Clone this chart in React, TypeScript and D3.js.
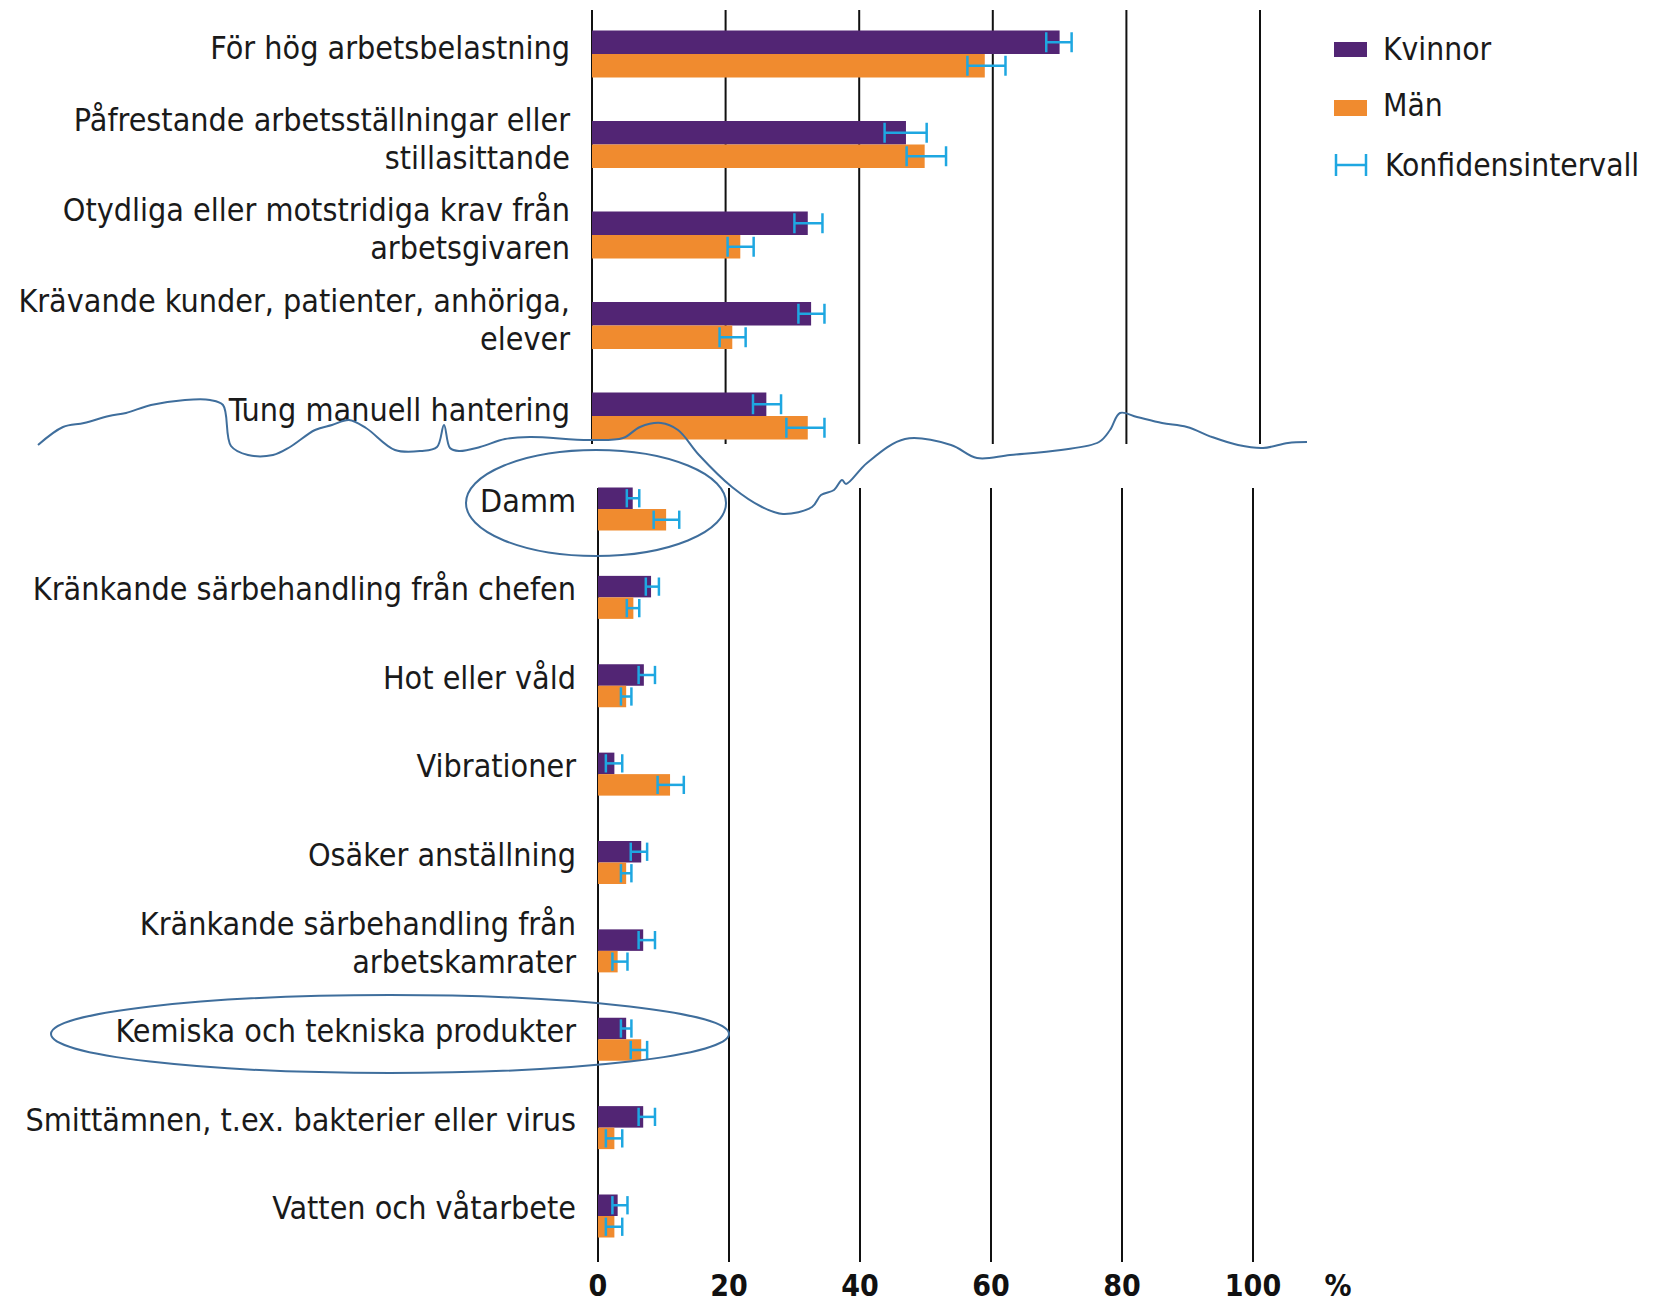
import React from "react";
import * as d3 from "d3";

// ---------- data ----------
const topCategories: string[][] = [
  ["För hög arbetsbelastning"],
  ["Påfrestande arbetsställningar eller", "stillasittande"],
  ["Otydliga eller motstridiga krav från", "arbetsgivaren"],
  ["Krävande kunder, patienter, anhöriga,", "elever"],
  ["Tung manuell hantering"],
];
const topKvinnor = [70, 47, 32.3, 32.8, 26.1];
const topKvinnorLo = [68, 43.8, 30.3, 30.9, 24.1];
const topKvinnorHi = [71.8, 50.1, 34.5, 34.8, 28.3];
const topMan = [58.8, 49.8, 22.2, 21, 32.3];
const topManLo = [56.2, 47.1, 20.3, 19.1, 29.1];
const topManHi = [61.9, 53, 24.2, 23, 34.8];

const bottomCategories: string[][] = [
  ["Damm"],
  ["Kränkande särbehandling från chefen"],
  ["Hot eller våld"],
  ["Vibrationer"],
  ["Osäker anställning"],
  ["Kränkande särbehandling från", "arbetskamrater"],
  ["Kemiska och tekniska produkter"],
  ["Smittämnen, t.ex. bakterier eller virus"],
  ["Vatten och våtarbete"],
];
const bottomKvinnor = [5.3, 8.1, 7.0, 2.5, 6.6, 6.9, 4.3, 6.9, 3.0];
const bottomKvinnorLo = [4.4, 7.3, 6.2, 1.2, 5.0, 6.2, 3.5, 6.2, 2.2];
const bottomKvinnorHi = [6.3, 9.3, 8.7, 3.7, 7.5, 8.7, 5.1, 8.7, 4.5];
const bottomMan = [10.4, 5.4, 4.3, 11.0, 4.3, 3.0, 6.6, 2.5, 2.5];
const bottomManLo = [8.5, 4.4, 3.5, 9.1, 3.5, 2.2, 5.0, 1.2, 1.2];
const bottomManHi = [12.4, 6.3, 5.1, 13.1, 5.1, 4.5, 7.5, 3.7, 3.7];

const tickValues = [0, 20, 40, 60, 80, 100];
const unitLabel = "%";
const legendLabels = ["Kvinnor", "Män", "Konfidensintervall"];

// hand-drawn annotation (break line and circles)
const breakLine: [number, number][] = [
  [38, 445], [63, 427], [84, 423], [109, 416], [126, 413], [151, 405], [185, 400],
  [210, 400], [223, 405], [231, 446], [248, 455], [273, 455], [290, 447], [315, 430],
  [332, 425], [349, 420], [366, 428], [395, 450], [421, 451], [437, 447], [444, 425],
  [450, 448], [459, 451], [480, 447], [505, 439], [530, 437], [589, 440], [623, 438],
  [640, 427], [661, 423], [678, 430], [699, 455], [732, 487], [762, 507], [783, 514],
  [812, 507], [821, 495], [834, 490], [842, 480], [846, 484], [867, 463], [905, 439],
  [951, 445], [977, 458], [1010, 455], [1061, 450], [1099, 442], [1110, 430],
  [1120, 413], [1137, 417], [1162, 423], [1187, 427], [1212, 437], [1238, 445],
  [1263, 448], [1288, 443], [1307, 442],
];
const ellipses = [
  { cx: 596, cy: 503, rx: 130, ry: 53 },
  { cx: 390, cy: 1034, rx: 339, ry: 39 },
];

// ---------- styles ----------
const PURPLE = "#522574";
const ORANGE = "#f08b2f";
const CI = "#1ea7e1";
const ANNOT = "#3f6e9c";
const FONT = "'Liberation Sans Narrow', 'DejaVu Sans Condensed', 'Arial Narrow', sans-serif";

type PanelProps = {
  cats: string[][];
  k: number[]; kLo: number[]; kHi: number[];
  m: number[]; mLo: number[]; mHi: number[];
  x0: number; x1: number; yFirst: number; yLast: number;
  gridTop: number; gridBottom: number; barH: number; labelDy: number;
};

function Panel(p: PanelProps) {
  const x = d3.scaleLinear().domain([0, 100]).range([p.x0, p.x1]);
  const y = d3.scalePoint<number>().domain(p.cats.map((_, i) => i)).range([p.yFirst, p.yLast]);
  const capH = p.barH * 0.85;
  const errBar = (lo: number, hi: number, cy: number, key: string) => (
    <g key={key} stroke={CI} strokeWidth={2.5}>
      <line x1={x(lo)} x2={x(hi)} y1={cy} y2={cy} />
      <line x1={x(lo)} x2={x(lo)} y1={cy - capH / 2} y2={cy + capH / 2} />
      <line x1={x(hi)} x2={x(hi)} y1={cy - capH / 2} y2={cy + capH / 2} />
    </g>
  );
  return (
    <g>
      {tickValues.map((t) => (
        <line key={"g" + t} x1={x(t)} x2={x(t)} y1={p.gridTop} y2={p.gridBottom} stroke="#111" strokeWidth={2} />
      ))}
      {p.cats.map((lines, i) => {
        const c = y(i)!;
        return (
          <g key={"c" + i}>
            <rect x={x(0)} y={c - p.barH} width={x(p.k[i]) - x(0)} height={p.barH} fill={PURPLE} />
            <rect x={x(0)} y={c} width={x(p.m[i]) - x(0)} height={p.barH} fill={ORANGE} />
            {errBar(p.kLo[i], p.kHi[i], c - p.barH / 2, "ek" + i)}
            {errBar(p.mLo[i], p.mHi[i], c + p.barH / 2, "em" + i)}
            <text x={x(0) - 22} textAnchor="end" fontFamily={FONT} fontSize={32} fill="#1a1a1a">
              {lines.map((ln, j) => (
                <tspan key={j} x={x(0) - 22} y={c + p.labelDy + (j - (lines.length - 1) / 2) * 38}>{ln}</tspan>
              ))}
            </text>
          </g>
        );
      })}
    </g>
  );
}

export default function App() {
  const xb = d3.scaleLinear().domain([0, 100]).range([598, 1253]);
  const lineGen = d3.line<[number, number]>().curve(d3.curveCatmullRom.alpha(0.5));
  return (
    <svg width={1664} height={1303} style={{ position: "absolute", left: 0, top: 0, background: "#fff" }}>
      <rect width={1664} height={1303} fill="#fff" />
      <Panel cats={topCategories} k={topKvinnor} kLo={topKvinnorLo} kHi={topKvinnorHi}
        m={topMan} mLo={topManLo} mHi={topManHi}
        x0={592} x1={1260} yFirst={54} yLast={416} gridTop={10} gridBottom={444} barH={23.5} labelDy={5} />
      <Panel cats={bottomCategories} k={bottomKvinnor} kLo={bottomKvinnorLo} kHi={bottomKvinnorHi}
        m={bottomMan} mLo={bottomManLo} mHi={bottomManHi}
        x0={598} x1={1253} yFirst={509} yLast={1216} gridTop={488} gridBottom={1262} barH={21.5} labelDy={3} />
      {tickValues.map((t) => (
        <text key={"t" + t} x={xb(t)} y={1296} textAnchor="middle" fontFamily={FONT} fontSize={30} fontWeight="bold" fill="#111">{t}</text>
      ))}
      <text x={1338} y={1296} textAnchor="middle" fontFamily={FONT} fontSize={30} fontWeight="bold" fill="#111">{unitLabel}</text>
      {/* legend */}
      <g fontFamily={FONT} fontSize={31.5} fill="#1a1a1a">
        <rect x={1334} y={42} width={33} height={15} fill={PURPLE} />
        <text x={1383} y={60}>{legendLabels[0]}</text>
        <rect x={1334} y={100} width={33} height={16} fill={ORANGE} />
        <text x={1383} y={116}>{legendLabels[1]}</text>
        <g stroke={CI} strokeWidth={2.5}>
          <line x1={1336} x2={1366} y1={165} y2={165} />
          <line x1={1336} x2={1336} y1={154} y2={176} />
          <line x1={1366} x2={1366} y1={154} y2={176} />
        </g>
        <text x={1385} y={176}>{legendLabels[2]}</text>
      </g>
      {/* hand-drawn annotations */}
      <path d={lineGen(breakLine) || ""} fill="none" stroke={ANNOT} strokeWidth={2} />
      {ellipses.map((e, i) => (
        <ellipse key={"el" + i} cx={e.cx} cy={e.cy} rx={e.rx} ry={e.ry} fill="none" stroke={ANNOT} strokeWidth={2} />
      ))}
    </svg>
  );
}
